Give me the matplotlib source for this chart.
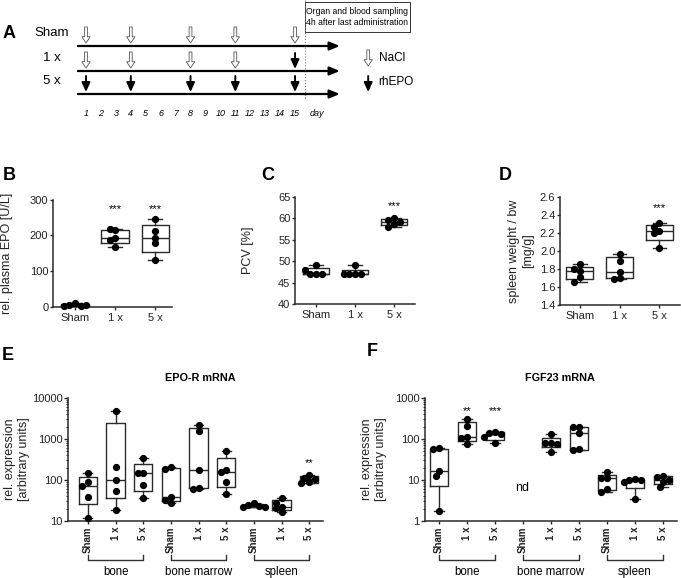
import numpy as np
import matplotlib
matplotlib.use('Agg')
import matplotlib.pyplot as plt
from matplotlib.patches import Rectangle
from matplotlib.ticker import FuncFormatter
import matplotlib.transforms as mtransforms

plt.rcParams['font.family'] = ['Liberation Sans', 'DejaVu Sans']

W, H = 681, 578

# ---- data ----
days = list(range(1, 16))
injection_days = [1, 4, 8, 11, 15]
schemes = ['Sham', '1 x', '5 x']
# 0 = NaCl, 1 = rhEPO
sham_inj = [0, 0, 0, 0, 0]
once_inj = [0, 0, 0, 0, 1]
five_inj = [1, 1, 1, 1, 1]

epo_sham = [9, 5, 2, 3, 5]
epo_1x = [215, 217, 194, 187, 168]
epo_5x = [246, 212, 193, 178, 131]

pcv_sham = [47, 47, 47, 48, 49]
pcv_1x = [47, 47, 47, 47, 49]
pcv_5x = [60, 59.5, 59, 58.7, 58]

spl_sham = [1.85, 1.80, 1.78, 1.71, 1.66]
spl_1x = [1.97, 1.89, 1.77, 1.70, 1.69]
spl_5x = [2.31, 2.26, 2.22, 2.20, 2.03]

tissues = ['bone', 'bone marrow', 'spleen']
epor_bone = [[146, 88, 73, 39, 11.7], [4770, 204, 100, 53, 18.6], [346, 146, 146, 75, 35.6]]
epor_marrow = [[204, 182, 38, 32, 28], [2180, 1550, 176, 63, 62], [505, 179, 160, 88, 45.6]]
epor_spleen = [[28, 25, 23.5, 22.5, 22], [36, 28, 22.3, 20.6, 16.2], [132, 112, 106, 88, 85]]

fgf_bone = [[59, 58, 16.6, 12.8, 1.75], [306, 208, 109, 104, 74], [151, 143, 130, 114, 78]]
fgf_marrow = [None, [130, 78, 78, 76, 49], [200, 198, 138, 56, 54]]
fgf_spleen = [[16, 11, 11, 5.9, 5.2], [10.4, 10.2, 10, 9.1, 3.4], [12.8, 12, 10, 9.1, 6.9]]

LC = '#2a2a2a'

fig = plt.figure(figsize=(W / 100, H / 100), dpi=100)


def add_ax(left, top, right, bottom):
    return fig.add_axes([left / W, 1 - bottom / H, (right - left) / W, (bottom - top) / H])


def stats(v):
    v = np.asarray(v, float)
    q1, med, q3 = np.percentile(v, [25, 50, 75], method='weibull')
    return dict(med=med, q1=q1, q3=q3, whislo=v.min(), whishi=v.max(), fliers=[])


def swarm(ax, pos, vals, d=5.6):
    tr = ax.transData
    x0 = tr.transform((pos, vals[0]))[0]
    placed, xs = [], []
    for v in vals:
        y = tr.transform((pos, v))[1]
        for k in [0, -1, 1, -2, 2, -3, 3, -4, 4]:
            x = x0 + k * d * 0.5
            if all(np.hypot(x - a, y - b) >= d * 0.95 for a, b in placed):
                break
        placed.append((x, y))
        xs.append(tr.inverted().transform((x, y))[0])
    return xs


def boxes(ax, groups, positions, width):
    keep = [(g, p) for g, p in zip(groups, positions) if g is not None]
    st = [stats(g) for g, p in keep]
    pr = dict(color=LC, lw=1.0)
    ax.bxp(st, positions=[p for g, p in keep], widths=width, capwidths=width * 0.5,
           showfliers=False, manage_ticks=False, boxprops=pr, whiskerprops=pr,
           capprops=pr, medianprops=pr)
    for g, p in keep:
        ax.plot(swarm(ax, p, g), g, 'o', color='black', ms=4.2, clip_on=False, zorder=3)


def style(ax):
    ax.spines[['top', 'right']].set_visible(False)
    for s in ['left', 'bottom']:
        ax.spines[s].set_linewidth(1.1)
        ax.spines[s].set_color(LC)
    ax.tick_params(axis='both', colors=LC, labelcolor='#222', labelsize=8, width=1, length=2.5)
    ax.tick_params(axis='y', pad=0.8)
    ax.tick_params(axis='x', pad=2)


def ylab(ax, text, right_px):
    ax.set_ylabel(text, fontsize=9, color='#222')
    pos = ax.get_position()
    ax.yaxis.set_label_coords(right_px / W, (pos.y0 + pos.y1) / 2, transform=fig.transFigure)


def letter(x, y, s):
    fig.text(x / W, 1 - y / H, s, fontsize=13, fontweight='bold', ha='center', va='center')


# ---- panel A ----
axA = add_ax(0, 0, W, 130)
axA.set_xlim(-4.76, 40.85)
axA.set_ylim(130, 0)
axA.axis('off')
rows_y = [46, 71, 94]
for lab, inj, y in zip(schemes, [sham_inj, once_inj, five_inj], rows_y):
    axA.annotate('', xy=(18.0, y), xytext=(0.46, y),
                 arrowprops=dict(arrowstyle='-|>,head_length=0.6,head_width=0.25', lw=1.6,
                                 color='black', shrinkA=0, shrinkB=0))
    axA.text(-1.28, y - 13, lab, fontsize=9.5, ha='center', va='center')
    for d, k in zip(injection_days, inj):
        if k:
            axA.annotate('', xy=(d, y - 2), xytext=(d, y - 18),
                         arrowprops=dict(arrowstyle='-|>,head_length=0.55,head_width=0.25',
                                         lw=1.4, color='black', shrinkA=0, shrinkB=0))
        else:
            axA.annotate('', xy=(d, y - 3), xytext=(d, y - 19),
                         arrowprops=dict(arrowstyle='simple,head_length=0.45,head_width=0.6,tail_width=0.2',
                                         fc='white', ec='#555555', lw=0.6, shrinkA=0, shrinkB=0))
for d in days:
    axA.text(d, 113, str(d), fontsize=6.5, style='italic', ha='center', va='center')
axA.text(16.5, 113, 'day', fontsize=6.5, style='italic', ha='center', va='center')
axA.plot([15.67, 15.67], [0, 100], ls=':', color='#777777', lw=0.8)
axA.add_patch(Rectangle((15.67, 2), 7.0, 30, fill=False, ec='#333333', lw=0.7))
axA.text(19.17, 17, 'Organ and blood sampling\n4h after last administration', fontsize=6.2,
         ha='center', va='center', linespacing=1.3)
axA.annotate('', xy=(19.9, 66), xytext=(19.9, 50),
             arrowprops=dict(arrowstyle='simple,head_length=0.45,head_width=0.6,tail_width=0.2',
                             fc='white', ec='#555555', lw=0.6, shrinkA=0, shrinkB=0))
axA.text(20.6, 58, 'NaCl', fontsize=8.5, ha='left', va='center')
axA.annotate('', xy=(19.9, 92), xytext=(19.9, 76),
             arrowprops=dict(arrowstyle='-|>,head_length=0.55,head_width=0.25',
                             lw=1.4, color='black', shrinkA=0, shrinkB=0))
axA.text(20.6, 82, 'rhEPO', fontsize=8.5, ha='left', va='center')
letter(9, 33, 'A')

# ---- panel B ----
axB = add_ax(53, 199.7, 172, 306.7)
axB.set_xlim(-0.55, 2.42)
axB.set_ylim(0, 300)
axB.set_yticks([0, 100, 200, 300])
axB.set_xticks([0, 1, 2], schemes)
boxes(axB, [epo_sham, epo_1x, epo_5x], [0, 1, 2], 0.68)
style(axB)
ylab(axB, 'rel. plasma EPO [U/L]', 13)
for x in [1, 2]:
    axB.text(x, 273, '***', ha='center', va='center', fontsize=8)
letter(9, 175, 'B')

# ---- panel C ----
axC = add_ax(295, 196.7, 415, 304)
axC.set_xlim(-0.54, 2.54)
axC.set_ylim(40, 65)
axC.set_yticks(np.arange(40, 66, 5))
axC.set_xticks([0, 1, 2], schemes)
boxes(axC, [pcv_sham, pcv_1x, pcv_5x], [0, 1, 2], 0.68)
style(axC)
ylab(axC, 'PCV [%]', 254)
axC.text(2, 62.7, '***', ha='center', va='center', fontsize=8)
letter(268, 175, 'C')

# ---- panel D ----
axD = add_ax(560, 196.7, 680, 305)
axD.set_xlim(-0.5, 2.52)
axD.set_ylim(1.4, 2.6)
axD.set_yticks(np.round(np.arange(1.4, 2.61, 0.2), 1))
axD.yaxis.set_major_formatter(FuncFormatter(lambda v, p: f'{v:.1f}'))
axD.set_xticks([0, 1, 2], schemes)
boxes(axD, [spl_sham, spl_1x, spl_5x], [0, 1, 2], 0.68)
style(axD)
ylab(axD, 'spleen weight / bw\n[mg/g]', 534)
axD.text(2, 2.47, '***', ha='center', va='center', fontsize=8)
letter(505, 175, 'D')


# ---- panels E, F ----
def mrna(ax, groups, ylim, title, title_x, stars):
    ax.set_yscale('log')
    ax.set_xlim(-0.6, 8.5)
    ax.set_ylim(*ylim)
    pos = list(range(9))
    boxes(ax, groups, pos, 0.66)
    style(ax)
    ax.yaxis.set_major_formatter(FuncFormatter(lambda v, p: f'{v:g}'))
    ax.tick_params(axis='y', which='minor', length=1.6, width=0.8, colors=LC)
    ax.tick_params(axis='y', which='major', length=3)
    ax.set_xticks(pos, schemes * 3, rotation=90, fontsize=7, fontweight='bold')
    ax.tick_params(axis='x', pad=1.5)
    ylab(ax, 'rel. expression\n[arbitrary units]', ax.get_position().x0 * W - 38)
    fig.text(title_x / W, 1 - 378 / H, title, fontsize=7.8, fontweight='bold',
             ha='center', va='center')
    bl = mtransforms.blended_transform_factory(ax.transData, fig.transFigure)
    for i, t in enumerate(tissues):
        a, b = 3 * i, 3 * i + 2
        ax.plot([a, a, b, b], [1 - 555 / H, 1 - 560 / H, 1 - 560 / H, 1 - 555 / H],
                transform=bl, color='#333333', lw=1, clip_on=False)
        ax.text((a + b) / 2, 1 - 572 / H, t, transform=bl, fontsize=8.3,
                ha='center', va='center')
    for x, y, s in stars:
        ax.text(x, y, s, ha='center', va='center', fontsize=8)


axE = add_ax(68, 398, 323, 521)
mrna(axE, epor_bone + epor_marrow + epor_spleen, (10, 10000), 'EPO-R mRNA', 200,
     [(8, 255, '**')])
axE.set_xlim(-0.72, 8.5)
letter(8, 355, 'E')

axF = add_ax(425, 398, 677, 521)
mrna(axF, fgf_bone + fgf_marrow + fgf_spleen, (1, 1000), 'FGF23 mRNA', 560,
     [(1, 480, '**'), (2, 480, '***')])
axF.set_xlim(-0.5, 8.5)
axF.text(2.96, 6.3, 'nd', fontsize=9, ha='center', va='center')
letter(372, 352, 'F')

fig.savefig('out.png', dpi=100)
